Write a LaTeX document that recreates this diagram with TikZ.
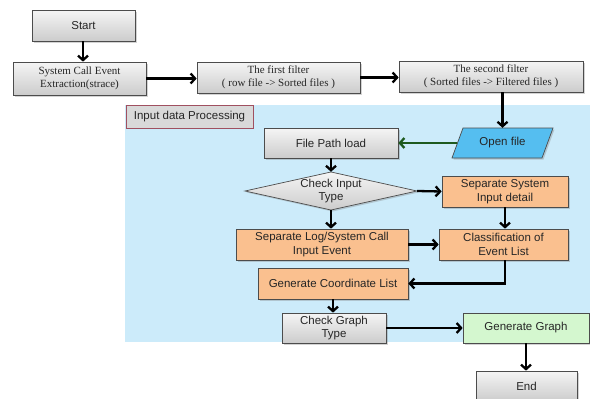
\documentclass[tikz,border=0pt]{standalone}
\usepackage{fontspec}
\setmainfont{Liberation Sans}
\newfontfamily\serifbox{Liberation Serif}
\usetikzlibrary{shadows,arrows.meta}

\definecolor{panelblue}{HTML}{CCEBFA}
\definecolor{peach}{HTML}{FAC08F}
\definecolor{mint}{HTML}{D4F7CF}
\definecolor{skyfill}{HTML}{55BEF0}
\definecolor{maroonline}{HTML}{A05060}
\definecolor{darkgreen}{HTML}{1E5A1E}

\tikzset{
  box/.style={draw=black!70, line width=0.7pt, minimum height=31pt, inner sep=1pt,
    align=center, font=\fontsize{11.5}{13.5}\selectfont, text=black!85,
    drop shadow={shadow xshift=1.5pt, shadow yshift=-1.5pt, opacity=0.35}},
  graybox/.style={box, top color=gray!8, bottom color=gray!40},
  orangebox/.style={box, fill=peach},
  greenbox/.style={box, fill=mint},
  filterbox/.style={graybox, font=\serifbox\fontsize{11}{13}\selectfont},
  arr/.style={-{Straight Barb[length=4.5pt,width=10pt]}, line width=2.3pt, black},
  greenarr/.style={arr, darkgreen},
  ghost/.style={minimum width=#1, minimum height=30pt, inner sep=0pt, align=center,
    font=\fontsize{11.5}{13.5}\selectfont, text=black!85},
}

\begin{document}
\begin{tikzpicture}[x=1pt, y=-1pt]
\useasboundingbox (0,0) rectangle (590,399);

% processing panel
\fill[panelblue] (125,105) rectangle (590,342);
\node[draw=maroonline, line width=0.7pt, fill=gray!30, minimum width=127pt, minimum height=23pt,
  inner sep=1pt, font=\fontsize{11.5}{13.5}\selectfont, text=black!85] (label) at (189.5,116.5) {Input data Processing};

% top row
\node[graybox, minimum width=103pt] (start) at (83.5,25.5) {Start};
\node[filterbox, minimum width=133pt, minimum height=33pt] (sce) at (79.5,78.5) {System Call Event\\Extraction(strace)};
\node[filterbox, minimum width=163pt] (f1) at (278.5,77.5) {The first filter\\( row file -> Sorted files )};
\node[filterbox, minimum width=184pt] (f2) at (491,76.5) {The second filter\\( Sorted files -> Filtered files )};

% open file (parallelogram)
\draw[draw=black!70, line width=0.7pt, fill=skyfill,
  drop shadow={shadow xshift=1.5pt, shadow yshift=-1.5pt, opacity=0.35}]
  (452,158) -- (463,128) -- (553,128) -- (542,158) -- cycle;
\node[ghost=90pt] (open) at (502.5,143) {Open file};

\node[graybox, minimum width=134pt, minimum height=30pt] (fpl) at (331,143) {File Path load};

% decision diamond
\draw[draw=black!70, line width=0.7pt, top color=gray!8, bottom color=gray!40,
  drop shadow={shadow xshift=1.5pt, shadow yshift=-1.5pt, opacity=0.35}]
  (245,191) -- (331,172) -- (417,191) -- (331,210) -- cycle;
\node[ghost=172pt, minimum height=38pt] (dia) at (331,191) {Check Input\\Type};

\node[orangebox, minimum width=126pt] (ssi) at (505,191.5) {Separate System\\Input detail};
\node[orangebox, minimum width=172pt] (sle) at (322,244.5) {Separate Log/System Call\\Input Event};
\node[orangebox, minimum width=129pt] (cel) at (503.5,244.5) {Classification of\\Event List};
\node[orangebox, minimum width=150pt] (gcl) at (333,283.5) {Generate Coordinate List};
\node[graybox, minimum width=104pt, minimum height=30pt] (cgt) at (334,328) {Check Graph\\Type};
\node[greenbox, minimum width=126pt, minimum height=30pt] (gg) at (526,328) {Generate Graph};
\node[graybox, minimum width=101pt, minimum height=30pt] (endn) at (526.5,386) {End};

% connectors
\draw[arr] (start.south -| 83,0) -- (sce.north -| 83,0);
\draw[arr] (sce.east) -- (f1.west |- sce.east);
\draw[arr] (f1.east) -- (f2.west |- f1.east);
\draw[arr] (f2.south -| open.north) -- (open.north);
\draw[greenarr] (open.west) -- (fpl.east);
\draw[arr] (fpl.south) -- (dia.north);
\draw[arr] (dia.east) -- (ssi.west);
\draw[arr] (dia.south) -- (dia.south |- sle.north);
\draw[arr] (ssi.south) -- (ssi.south |- cel.north);
\draw[arr] (sle.east) -- (cel.west);
\draw[arr] (ssi.south |- cel.south) |- (gcl.east);
\draw[arr] (gcl.south) -- (gcl.south |- cgt.north);
\draw[arr] (cgt.east) -- (gg.west);
\draw[arr] (gg.south) -- (gg.south |- endn.north);
\end{tikzpicture}
\end{document}
